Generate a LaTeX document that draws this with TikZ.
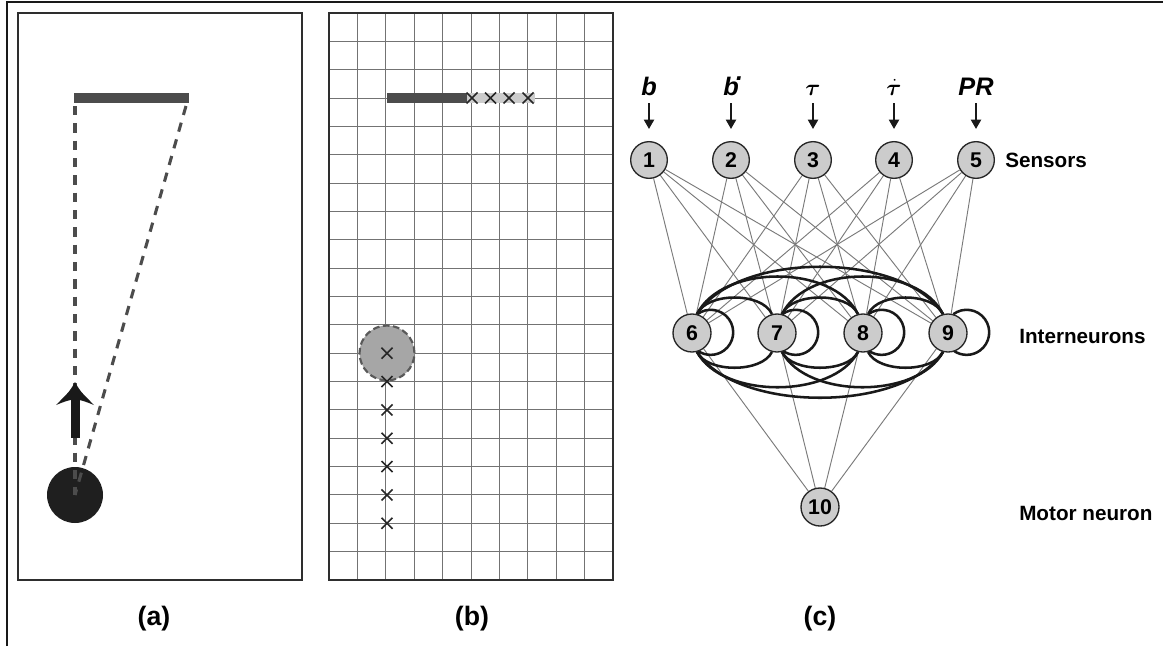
\documentclass[tikz,border=0pt]{standalone}
\usepackage{fontspec}
\setmainfont{Liberation Sans}
\usepackage{amsmath,bm}
\usetikzlibrary{arrows.meta}
\pgfdeclarelayer{background}
\pgfdeclarelayer{bottom}
\pgfsetlayers{bottom,background,main}
\begin{document}
\begin{tikzpicture}[x=0.75pt,y=0.75pt,
 frame/.style={draw=black!82, line width=1.7pt},
 gridline/.style={draw=black!55, line width=0.7pt},
 sightline/.style={draw=black!70, line width=2.3pt, dash pattern=on 7pt off 6pt},
 xmk/.style={draw=black!85, line width=1.2pt},
 neuron/.style={circle, fill=black!20, draw=black!85, line width=1pt, minimum size=27.5pt, inner sep=0pt, font=\fontsize{16}{18}\selectfont\bfseries},
 inter/.style={neuron, minimum size=28.5pt},
 syn/.style={draw=black!52, line width=0.7pt},
 rec/.style={draw=black!90, line width=1.9pt},
 inarrow/.style={draw=black!90, line width=1.5pt, -{Triangle[width=7.5pt,length=7pt]}},
 lay/.style={font=\fontsize{15.5}{18}\selectfont\bfseries, anchor=base west, inner sep=0pt},
 plab/.style={font=\fontsize{20}{24}\selectfont\bfseries, anchor=base, inner sep=0pt},
 slab/.style={font=\fontsize{19}{21}\selectfont\bfseries\itshape, anchor=base, inner sep=0pt},
]
\useasboundingbox (0,0) rectangle (1163,-646);
\begin{pgfonlayer}{bottom}
\fill[white] (0,0) rectangle (1163,-646);
\end{pgfonlayer}
\draw[black!90, line width=1.6pt] (6.7,-646) -- (6.7,-2) -- (1163,-2);

% ---------- panel (a)
\draw[frame] (18,-13) rectangle (302,-580);
\fill[black!70] (74,-93) rectangle (189,-103);
\fill[black!88] (75,-495) circle (21pt);
\draw[sightline] (75,-106) -- (75,-495);
\draw[sightline] (186,-106) -- (75,-495);
\fill[black!90] (70.5,-438) rectangle (79.5,-398);
\fill[black!90] (75,-382) .. controls (80,-391) .. (94,-405) .. controls (84,-401) .. (75,-399) .. controls (66,-401) .. (56,-405) .. controls (70,-391) .. cycle;
\node[plab] (la) at (154,-625) {(a)};

% ---------- panel (b)
\foreach \i in {1,...,9} \draw[gridline] ({329+28.4*\i},-13) -- ({329+28.4*\i},-580);
\foreach \j in {1,...,19} \draw[gridline] (329,{-13-28.35*\j}) -- (613,{-13-28.35*\j});
\draw[frame, line width=2pt] (329,-13) rectangle (613,-580);
\fill[black!70] (387,-93) rectangle (467,-103);
\fill[black!20] (467,-93) rectangle (535,-103);
\foreach \x in {472,490.5,509,528}
  \draw[xmk] (\x,-98) ++(-5.5,-5.5) -- ++(11,11) ++(-11,0) -- ++(11,-11);
\filldraw[fill=black!35, draw=black!65, line width=1.6pt, dash pattern=on 5pt off 2.6pt] (387,-353) circle (20.6pt);
\foreach \k in {12,...,18}
  \draw[xmk] (387,{-13-28.35*\k}) ++(-5.5,-5.5) -- ++(11,11) ++(-11,0) -- ++(11,-11);
\node[plab] (lb) at (472,-625) {(b)};

% ---------- panel (c)
\node[neuron] (s1) at (649,-160) {1};
\node[neuron] (s2) at (731,-160) {2};
\node[neuron] (s3) at (813,-160) {3};
\node[neuron] (s4) at (894,-160) {4};
\node[neuron] (s5) at (976,-160) {5};
\node[inter] (i6) at (692,-333) {6};
\node[inter] (i7) at (777,-333) {7};
\node[inter] (i8) at (863,-333) {8};
\node[inter] (i9) at (948,-333) {9};
\node[inter] (m10) at (820,-507) {10};

\begin{pgfonlayer}{background}
\foreach \s in {1,...,5}
  \foreach \t in {6,...,9}
    \draw[syn] (s\s) -- (i\t);
\foreach \t in {6,...,9}
  \draw[syn] (i\t) -- (m10);
% self loops
\foreach \t in {6,...,9}
  \draw[rec] (i\t.74) arc[start angle=126, end angle=-126, radius=16.9pt];
% upper arcs
\draw[rec] (i6.75) .. controls +(10,22) and +(-10,22) .. (i7.105);
\draw[rec] (i7.75) .. controls +(10,22) and +(-10,22) .. (i8.105);
\draw[rec] (i8.75) .. controls +(10,22) and +(-10,22) .. (i9.105);
\draw[rec] (i6.75) .. controls +(25,50) and +(-25,50) .. (i8.105);
\draw[rec] (i7.75) .. controls +(25,50) and +(-25,50) .. (i9.105);
\draw[rec] (i6.75) .. controls +(40,63) and +(-40,63) .. (i9.105);
% lower arcs
\draw[rec] (i6.-75) .. controls +(10,-21) and +(-10,-21) .. (i7.-105);
\draw[rec] (i7.-75) .. controls +(10,-21) and +(-10,-21) .. (i8.-105);
\draw[rec] (i8.-75) .. controls +(10,-21) and +(-10,-21) .. (i9.-105);
\draw[rec] (i6.-75) .. controls +(25,-47) and +(-25,-47) .. (i8.-105);
\draw[rec] (i7.-75) .. controls +(25,-47) and +(-25,-47) .. (i9.-105);
\draw[rec] (i6.-75) .. controls +(40,-61) and +(-40,-61) .. (i9.-105);
\end{pgfonlayer}

\node[slab] (l1) at (649,-95) {b};
\node[slab] (l2) at (731,-95) {b\rlap{\kern-0.1em\raisebox{0.56em}{.}}};
\node[slab] (l3) at (813,-95) {$\bm{\tau}$};
\node[slab] (l4) at (894,-95) {$\dot{\bm{\tau}}$};
\node[slab] (l5) at (976,-95) {PR};
\foreach \n in {1,...,5}
  \draw[inarrow] ([yshift=-6pt]l\n.base) -- ([yshift=9pt]s\n.north);

\node[lay] (ls) at (1005,-167) {Sensors};
\node[lay] (li) at (1019,-343) {Interneurons};
\node[lay] (lm) at (1019,-520) {Motor neuron};
\node[plab] (lc) at (820,-625) {(c)};
\end{tikzpicture}
\end{document}
